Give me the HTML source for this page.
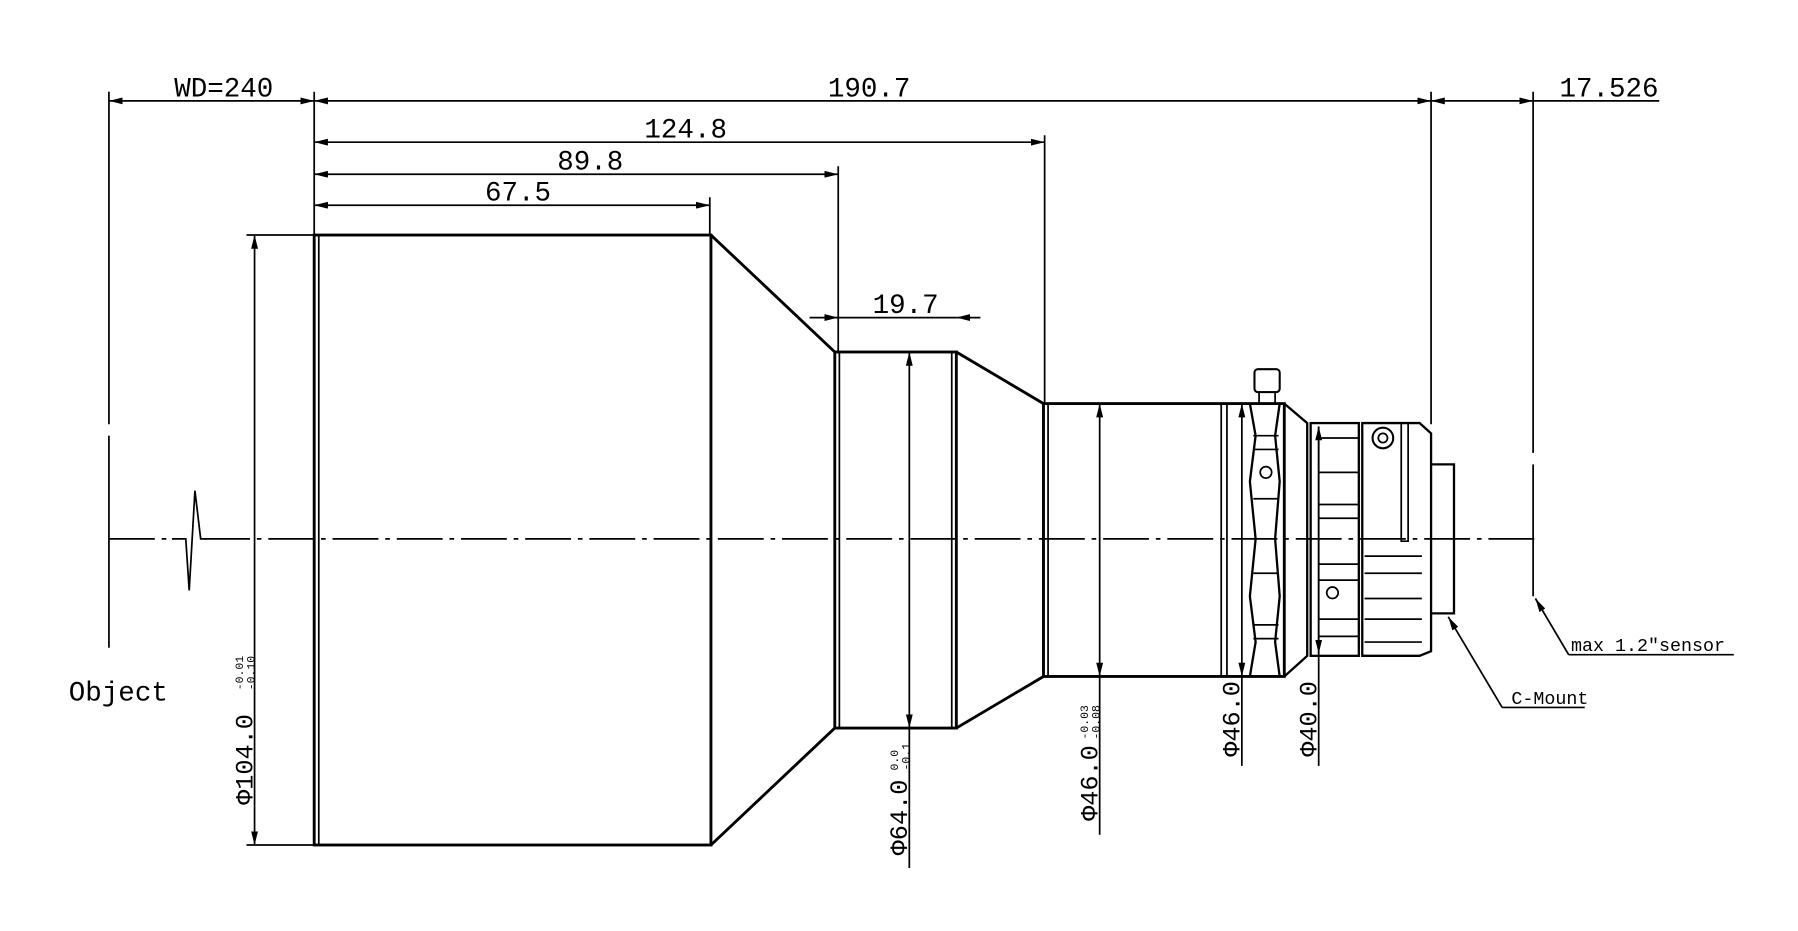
<!DOCTYPE html>
<html><head><meta charset="utf-8"><style>
html,body{margin:0;padding:0;background:#fff;}
svg{display:block;}
text{font-family:"Liberation Mono",monospace;fill:#000;}
</style></head><body>
<svg width="1798" height="931" viewBox="0 0 1568 812" preserveAspectRatio="none" xmlns="http://www.w3.org/2000/svg">
<defs>
<marker id="a" viewBox="0 0 12 6" refX="12" refY="3" markerWidth="12" markerHeight="6" orient="auto-start-reverse" markerUnits="userSpaceOnUse">
<path d="M0,0 L12,3 L0,6 Z" fill="#000"/></marker>
</defs>
<g stroke="#000" fill="none" stroke-width="1.5">
<path d="M95,470 H150 M178,470 H1340" stroke-dasharray="40,6,4,6"/>
<path d="M150,470 L162,470 L165,515 L170,428 L175,470 L180,470" />
<path d="M95,80 V370 M95,380 V565"/>
<path d="M274,80 V205 M619,172 V205 M731,145 V307 M911,118 V352 M1248,80 V370 M1337,80 V395 M1337,405 V520"/>
<line x1="95" y1="88" x2="274" y2="88" marker-start="url(#a)" marker-end="url(#a)"/>
<line x1="274" y1="88" x2="1248" y2="88" marker-start="url(#a)" marker-end="url(#a)"/>
<line x1="1248" y1="88" x2="1337" y2="88" marker-start="url(#a)" marker-end="url(#a)"/>
<line x1="1337" y1="88" x2="1447" y2="88"/>
<line x1="274" y1="124" x2="911" y2="124" marker-start="url(#a)" marker-end="url(#a)"/>
<line x1="274" y1="152" x2="731" y2="152" marker-start="url(#a)" marker-end="url(#a)"/>
<line x1="274" y1="179" x2="619" y2="179" marker-start="url(#a)" marker-end="url(#a)"/>
<line x1="706" y1="277" x2="731" y2="277" marker-end="url(#a)"/>
<line x1="855" y1="277" x2="834" y2="277" marker-end="url(#a)"/>
<line x1="731" y1="277" x2="834" y2="277"/>
<path d="M215,205 H274 M215,737 H274"/>
<line x1="222" y1="205" x2="222" y2="737" marker-start="url(#a)" marker-end="url(#a)"/>
<line x1="793" y1="307" x2="793" y2="635" marker-start="url(#a)" marker-end="url(#a)"/>
<line x1="793" y1="635" x2="793" y2="757"/>
<line x1="959" y1="352" x2="959" y2="590" marker-start="url(#a)" marker-end="url(#a)"/>
<line x1="959" y1="590" x2="959" y2="728"/>
<line x1="1083" y1="352" x2="1083" y2="590" marker-start="url(#a)" marker-end="url(#a)"/>
<line x1="1083" y1="590" x2="1083" y2="668"/>
<line x1="1150" y1="372" x2="1150" y2="570" marker-start="url(#a)" marker-end="url(#a)"/>
<line x1="1150" y1="570" x2="1150" y2="668"/>
<line x1="1310" y1="617" x2="1263" y2="538" marker-end="url(#a)"/>
<path d="M1310,617 H1382"/>
<line x1="1368" y1="571" x2="1339" y2="522" marker-end="url(#a)"/>
<path d="M1368,571 H1512"/>
</g>
<g stroke="#000" fill="none" stroke-width="2.5">
<rect x="274" y="205" width="346" height="532"/>
<line x1="278" y1="205" x2="278" y2="737" stroke-width="1.5"/>
<path d="M620,205 L728,307 M620,737 L728,635"/>
<rect x="728" y="307" width="106" height="328"/>
<path d="M732,307 V635 M830,307 V635" stroke-width="1.5"/>
<path d="M834,307 L910,352 M834,635 L910,590"/>
<rect x="910" y="352" width="210" height="238"/>
<path d="M914,352 V590 M1065,352 V590 M1070,352 V590" stroke-width="1.5"/>
<path d="M1090,352 L1095,380 L1090,420 L1095,470 L1090,520 L1095,560 L1090,590 M1116,352 L1112,380 L1116,420 L1112,470 L1116,520 L1112,560 L1116,590" stroke-width="2"/>
<path d="M1093,380 H1115 M1093,392 H1115 M1093,435 H1115 M1093,500 H1115 M1093,545 H1115 M1093,557 H1115" stroke-width="1.5"/>
<circle cx="1104" cy="412" r="5" stroke-width="1.5"/>
<rect x="1094" y="322" width="22" height="20" rx="3" stroke-width="1.8"/>
<rect x="1098" y="342" width="14" height="10" stroke-width="1.5"/>
<path d="M1120,352 L1140,369 V572 L1120,590" stroke-width="2"/>
<rect x="1143" y="369" width="42" height="203" stroke-width="2"/>
<path d="M1150,372 V570" stroke-width="1.5"/>
<path d="M1150,382 H1185 M1150,412 H1185 M1150,440 H1185 M1150,452 H1185 M1150,492 H1185 M1150,506 H1185 M1150,540 H1185 M1150,555 H1185" stroke-width="1.5"/>
<circle cx="1162" cy="517" r="5" stroke-width="1.5"/>
<path d="M1188,369 H1238 L1248,378 V568 L1238,572 H1188 Z" stroke-width="2"/>
<path d="M1222,369 V472 H1228 V369" stroke-width="1.5"/>
<path d="M1190,485 H1240 M1190,500 H1240 M1190,522 H1240 M1190,540 H1240 M1190,560 H1240" stroke-width="1.5"/>
<circle cx="1206" cy="382" r="9" stroke-width="1.8"/>
<circle cx="1206" cy="382" r="4" stroke-width="1.5"/>
<path d="M1248,405 H1268 V535 H1248" stroke-width="2"/>
</g>
<g font-size="24">
<text x="152" y="84">WD=240</text>
<text x="722" y="84">190.7</text>
<text x="1360" y="84">17.526</text>
<text x="562" y="120">124.8</text>
<text x="486" y="148">89.8</text>
<text x="423" y="175">67.5</text>
<text x="761" y="273">19.7</text>
<text x="60" y="611">Object</text>
</g>
<g font-size="16">
<text x="1318" y="614">C-Mount</text>
<text x="1370" y="568">max 1.2″sensor</text>
</g>
<g font-size="22">
<text transform="translate(220,702) rotate(-90)">Φ104.0</text>
<text transform="translate(218,602) rotate(-90)" font-size="10"><tspan x="0" y="-6">-0.01</tspan><tspan x="0" y="4">-0.10</tspan></text>
<text transform="translate(791,746) rotate(-90)">Φ64.0</text>
<text transform="translate(789,672) rotate(-90)" font-size="10"><tspan x="0" y="-6">0.0</tspan><tspan x="0" y="4">-0.1</tspan></text>
<text transform="translate(957,716) rotate(-90)">Φ46.0</text>
<text transform="translate(955,645) rotate(-90)" font-size="10"><tspan x="0" y="-6">-0.03</tspan><tspan x="0" y="4">-0.08</tspan></text>
<text transform="translate(1081,660) rotate(-90)">Φ46.0</text>
<text transform="translate(1148,660) rotate(-90)">Φ40.0</text>
</g>
</svg>
</body></html>
